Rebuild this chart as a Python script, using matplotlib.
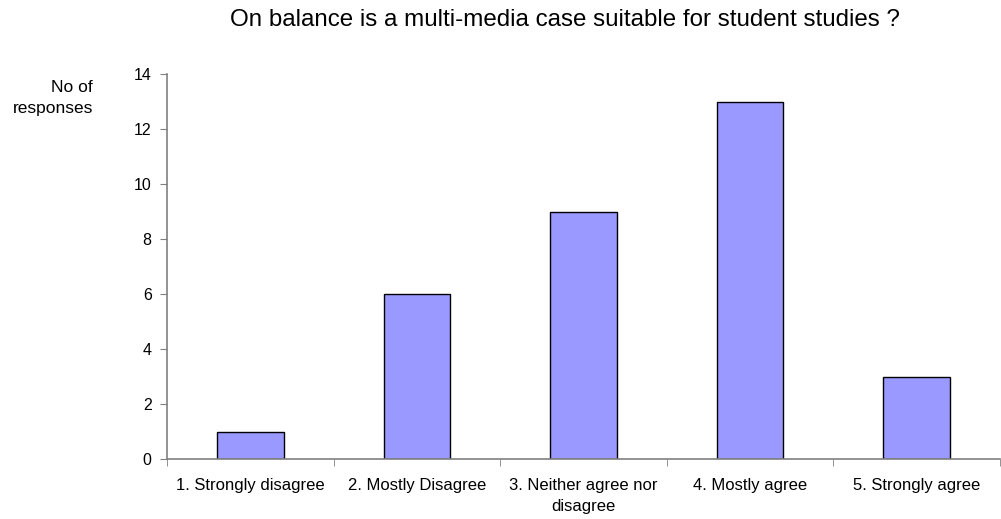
import matplotlib
matplotlib.use("Agg")
import matplotlib.pyplot as plt
import numpy as np

categories = ["1. Strongly disagree", "2. Mostly Disagree", "3. Neither agree nor\ndisagree",
              "4. Mostly agree", "5. Strongly agree"]
responses = [1, 6, 9, 13, 3]
yticks = [0, 2, 4, 6, 8, 10, 12, 14]

plt.rcParams['font.family'] = ['Liberation Sans', 'DejaVu Sans']

fig = plt.figure(figsize=(10.01, 5.19), dpi=100)
ax = fig.add_axes([167/1001, 1 - 459/519, (1000 - 167)/1001, (459 - 74)/519])

x = np.arange(len(categories))
ax.bar(x, responses, width=0.4, color='#9999FF', edgecolor='black', linewidth=1)

ax.set_xlim(-0.5, len(categories) - 0.5)
ax.set_ylim(0, 14)
ax.set_yticks(yticks)
ax.set_xticks(x)
ax.set_xticklabels(categories, fontsize=12, va='top', linespacing=1.55)
ax.tick_params(axis='x', which='major', length=0, pad=13.5)
ax.set_xticks(np.arange(len(categories) + 1) - 0.5, minor=True)
ax.tick_params(axis='x', which='minor', length=5, direction='out', color='#808080')
ax.tick_params(axis='y', length=5, direction='out', color='#808080', labelsize=11.5, pad=6)

for s in ['top', 'right']:
    ax.spines[s].set_visible(False)
for s in ['left', 'bottom']:
    ax.spines[s].set_color('#808080')
    ax.spines[s].set_linewidth(1.2)

fig.text(565/1001, 1 - 20/519, "On balance is a multi-media case suitable for student studies ?",
         ha='center', va='center', fontsize=17.4)
fig.text(93/1001, 1 - 98/519, "No of\nresponses", ha='right', va='center', fontsize=12.5,
         linespacing=1.45)

fig.savefig("out.png", dpi=100)
